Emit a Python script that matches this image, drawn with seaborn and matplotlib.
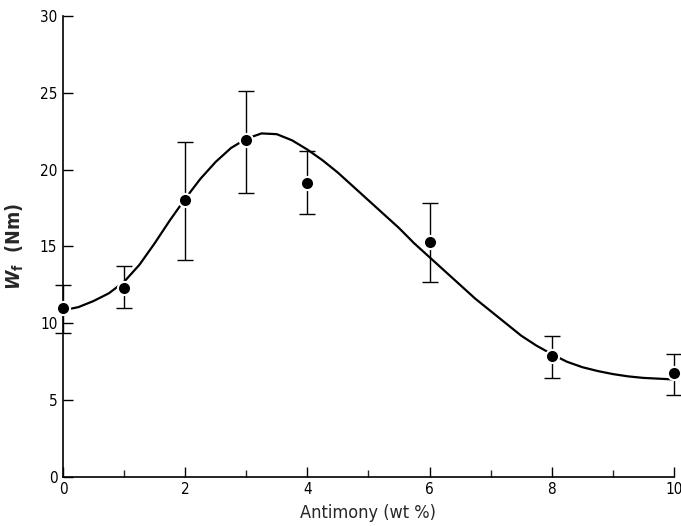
import matplotlib
matplotlib.use("Agg")
import matplotlib.pyplot as plt
import seaborn as sns
import pandas as pd
import numpy as np

# Measured points
antimony = [0, 1, 2, 3, 4, 6, 8, 10]
wf = [11.0, 12.3, 18.0, 21.9, 19.1, 15.3, 7.9, 6.8]
err_upper = [12.5, 13.7, 21.8, 25.1, 21.2, 17.8, 9.2, 8.0]
err_lower = [9.4, 11.0, 14.1, 18.5, 17.1, 12.7, 6.45, 5.35]

# Fitted curve
curve_x = [0, 0.25, 0.5, 0.75, 1, 1.25, 1.5, 1.75, 2, 2.25, 2.5, 2.75, 3, 3.25, 3.5, 3.75,
           4, 4.25, 4.5, 4.75, 5, 5.25, 5.5, 5.75, 6, 6.25, 6.5, 6.75, 7, 7.25, 7.5, 7.75,
           8, 8.25, 8.5, 8.75, 9, 9.25, 9.5, 9.75, 10]
curve_y = [10.85, 11.05, 11.45, 11.95, 12.7, 13.8, 15.2, 16.7, 18.1, 19.4, 20.5, 21.4, 22.0,
           22.35, 22.3, 21.9, 21.3, 20.6, 19.8, 18.9, 18.0, 17.1, 16.2, 15.2, 14.3, 13.4, 12.5,
           11.6, 10.8, 10.0, 9.2, 8.55, 8.0, 7.5, 7.15, 6.9, 6.7, 6.55, 6.45, 6.4, 6.35]

x_ticks = [0, 2, 4, 6, 8, 10]
y_ticks = [0, 5, 10, 15, 20, 25, 30]

sns.set_style("ticks")
plt.rcParams['font.family'] = ['DejaVu Sans']
plt.rcParams['font.stretch'] = 'condensed'
plt.rcParams['mathtext.fontset'] = 'dejavusans'

fig = plt.figure(figsize=(6.81, 5.26), dpi=100)
ax = fig.add_axes([0.0925, 0.093, 0.897, 0.877])

df_curve = pd.DataFrame({"x": curve_x, "y": curve_y})
df_pts = pd.DataFrame({"x": antimony, "y": wf})

sns.lineplot(data=df_curve, x="x", y="y", ax=ax, color="black", linewidth=1.6, clip_on=False, zorder=2)

yerr = np.array([np.array(wf) - np.array(err_lower), np.array(err_upper) - np.array(wf)])
ax.errorbar(antimony, wf, yerr=yerr, fmt="none", ecolor="black", elinewidth=1.0,
            capsize=6, capthick=1.0, clip_on=False, zorder=3)

sns.scatterplot(data=df_pts, x="x", y="y", ax=ax, color="black", s=90, edgecolor="white",
                linewidth=1.5, clip_on=False, zorder=4)

ax.set_xlim(0, 10)
ax.set_ylim(0, 30)
ax.set_xticks(x_ticks)
ax.set_xticks([1, 3, 5, 7, 9], minor=True)
ax.set_yticks(y_ticks)
ax.set_xticklabels([str(t) for t in x_ticks])
ax.set_yticklabels([str(t) for t in y_ticks])
ax.tick_params(axis="both", which="major", direction="in", length=7, width=1, labelsize=11, colors="black")
ax.tick_params(axis="x", which="minor", direction="in", length=5, width=1)
ax.tick_params(axis="y", which="major", pad=4)

for s in ["top", "right"]:
    ax.spines[s].set_visible(False)
for s in ["left", "bottom"]:
    ax.spines[s].set_linewidth(1.2)
    ax.spines[s].set_color("black")

ax.set_xlabel("Antimony (wt %)", fontsize=13, labelpad=5)
ax.set_ylabel(r"$\boldsymbol{W}_\mathbf{f}$  (Nm)", fontsize=14, fontweight="bold", labelpad=10)

fig.savefig("out.png", dpi=100)
